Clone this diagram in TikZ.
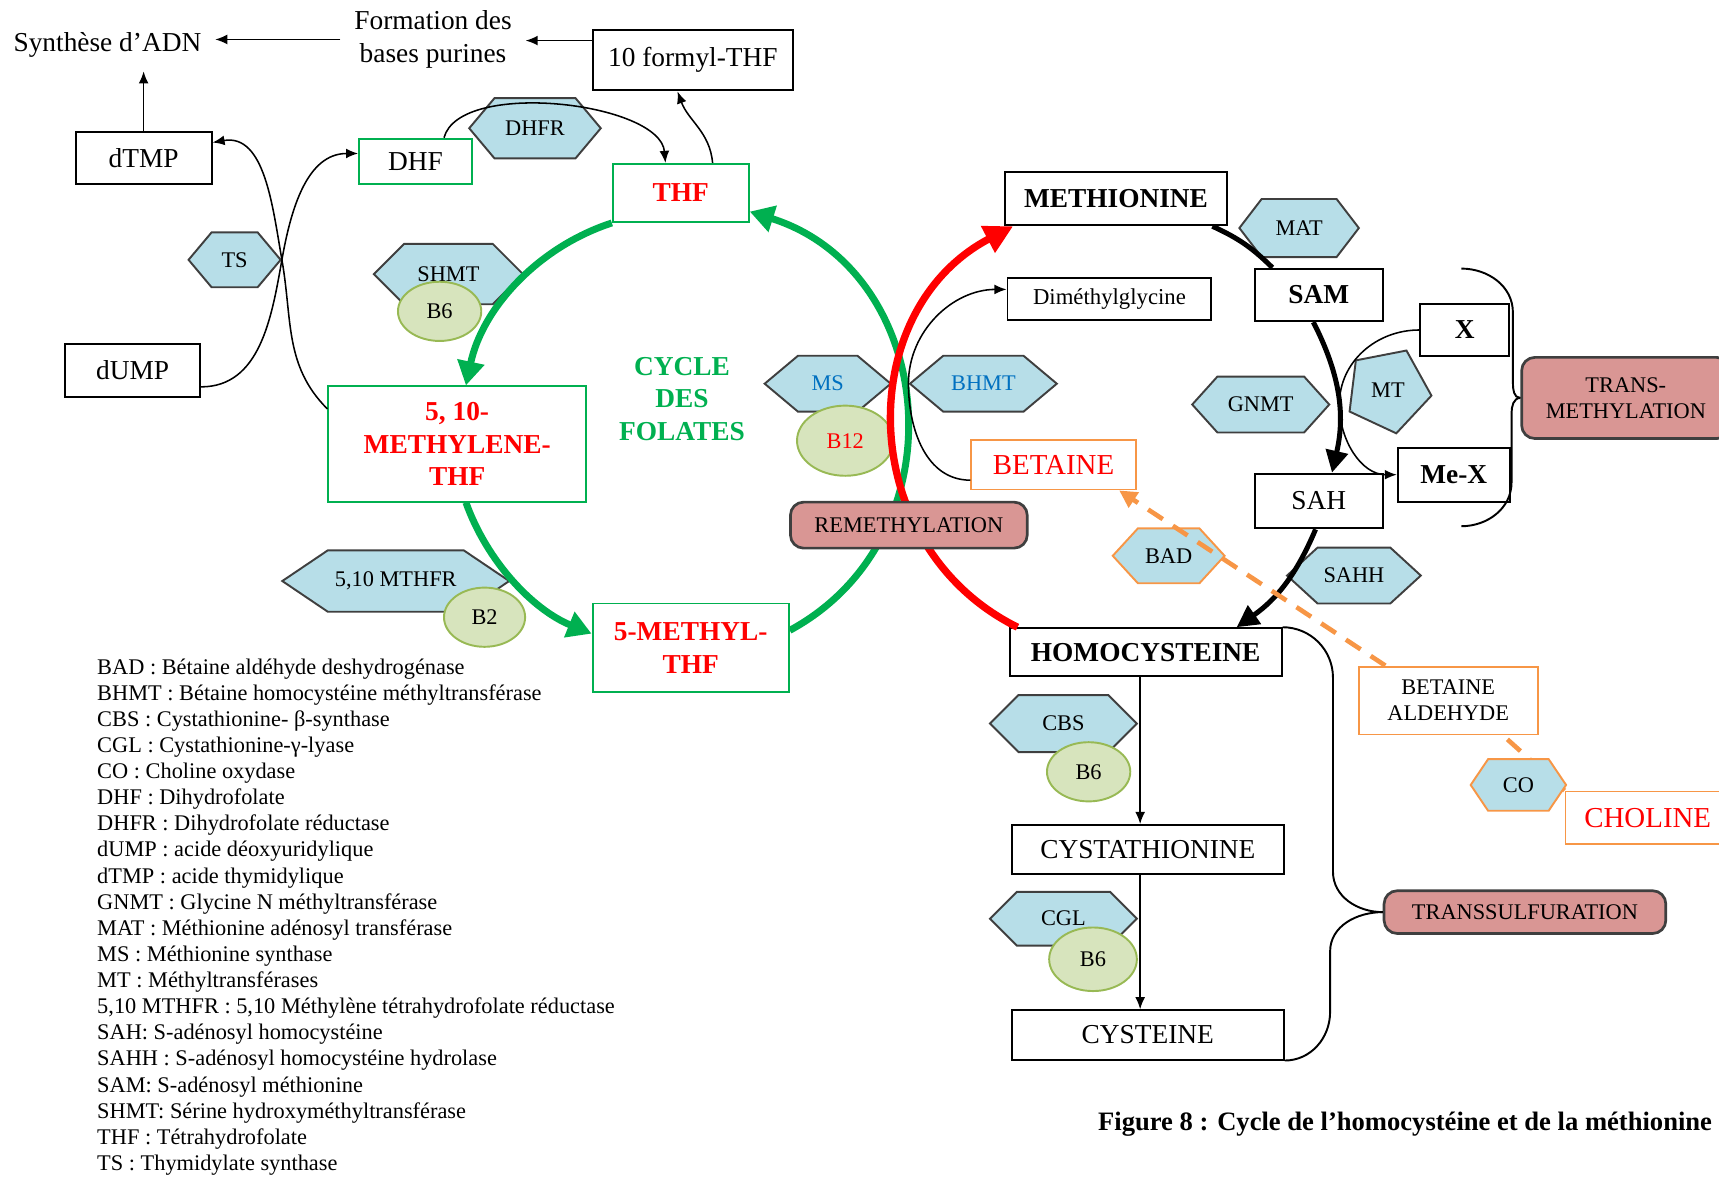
\documentclass[tikz,border=0pt]{standalone}
\usepackage{fontspec}
\setmainfont{Liberation Serif}
\usepackage{tikz}
\usetikzlibrary{shapes.geometric,shapes.symbols,arrows.meta,positioning}

\definecolor{fgreen}{HTML}{00B050}
\definecolor{forange}{HTML}{F79646}
\definecolor{fblue}{HTML}{0070C0}
\definecolor{hexfill}{HTML}{B7DEE8}
\definecolor{hexedge}{HTML}{3F3F3F}
\definecolor{vitfill}{HTML}{D7E4BD}
\definecolor{vitedge}{HTML}{98B954}
\definecolor{pinkfill}{HTML}{D99694}

\newcommand{\mainfs}{\fontsize{7.1}{8.5}\selectfont}
\newcommand{\smallfs}{\fontsize{5.8}{6.8}\selectfont}
\newcommand{\legfs}{\fontsize{5.8}{6.78}\selectfont}
\newcommand{\redfs}{\fontsize{7.5}{9}\selectfont}

\begin{document}
\begin{tikzpicture}[
x=0.1mm, y=0.1mm,
box/.style={
  draw,
  line width=0.5pt,
  inner sep=0pt,
  font=\mainfs,
  align=center
  },
gbox/.style={box, draw=fgreen},
obox/.style={box, draw=forange},
enz/.style={
  shape=signal,
  signal to=east and west,
  signal pointer angle=100,
  fill=hexfill,
  draw=hexedge,
  line width=0.5pt,
  inner sep=0pt,
  font=\smallfs
  },
vit/.style={
  ellipse,
  fill=vitfill,
  draw=vitedge,
  line width=0.5pt,
  inner sep=0pt,
  font=\smallfs
  },
lab/.style={
  rounded corners=1.2mm,
  fill=pinkfill,
  draw=hexedge,
  line width=0.7pt,
  inner sep=0pt,
  font=\smallfs,
  align=center
  },
plain/.style={inner sep=1.2mm, font=\mainfs, align=center},
cyc/.style={line width=1.8pt, -{Triangle[length=2.2mm,width=2.4mm]}},
link/.style={line width=0.4pt, ->},
dashline/.style={forange, line width=1.2pt, dash pattern=on 1.6mm off 1.1mm},
>={Latex[length=1.1mm,width=0.9mm]}
]
\useasboundingbox (0,0) rectangle (1568,-1073);
\clip (0,0) rectangle (1568,-1073);

% folate side
\node[plain] at (98,-41) (adn) {Synthèse d’ADN};
\node[plain] at (395,-36) (purine) {Formation des\\bases purines};
\node[box, minimum width=18.3mm, minimum height=5.5mm] at (632,-55) (formyl) {10 formyl-THF};
\node[box, minimum width=12.4mm, minimum height=4.8mm] at (131,-144) (dtmp) {dTMP};
\node[box, minimum width=12.3mm, minimum height=4.8mm] at (121,-338) (dump) {dUMP};
\node[gbox, minimum width=10.3mm, minimum height=4.1mm] at (379,-147) (dhf) {DHF};
\node[enz, minimum width=12mm, minimum height=5.5mm] at (488,-117) (dhfr) {DHFR};
\node[gbox, minimum width=12.4mm, minimum height=5.3mm, text=red, font=\mainfs\bfseries] at (621,-176) (thf) {THF};
\node[enz, minimum width=8.4mm, minimum height=5mm] at (214,-237) (ts) {TS};
\node[enz, minimum width=13.6mm, minimum height=5.5mm, signal pointer angle=90] at (409,-250) (shmt) {SHMT};
\node[vit, minimum width=7.6mm, minimum height=5.4mm] at (401,-284) (vb6a) {B6};
\node[gbox, minimum width=23.5mm, minimum height=10.5mm, text=red, font=\mainfs\bfseries] at (417,-405) (meth) {5, 10-\\METHYLENE-\\THF};
\node[plain, inner sep=0pt, text=fgreen, font=\mainfs\bfseries] at (622,-364) (cycle) {CYCLE\\DES\\FOLATES};
\node[enz, minimum width=11.5mm, minimum height=5.1mm, signal pointer angle=80, text=fblue] at (755,-350) (ms) {MS};
\node[vit, minimum width=8.8mm, minimum height=6.4mm, text=red] at (771,-402) (vb12) {B12};
\node[enz, minimum width=13.4mm, minimum height=5.1mm, signal pointer angle=80, text=fblue] at (897,-350) (bhmt) {BHMT};
\node[enz, minimum width=20.7mm, minimum height=5.6mm, signal pointer angle=68] at (361,-530) (mthfr) {5,10 MTHFR};
\node[vit, minimum width=7.4mm, minimum height=5.4mm] at (442,-563) (vb2) {B2};
\node[gbox, minimum width=17.9mm, minimum height=8.1mm, text=red, font=\mainfs\bfseries] at (630,-591) (mthf) {5-METHYL-\\THF};

% methionine side
\node[box, minimum width=20.2mm, minimum height=4.9mm, font=\mainfs\bfseries] at (1018,-181) (met) {METHIONINE};
\node[box, minimum width=18.6mm, minimum height=3.8mm, font=\fontsize{5.9}{7}\selectfont] at (1012,-273) (dmg) {Diméthylglycine};
\node[enz, minimum width=10.9mm, minimum height=5.3mm, signal pointer angle=105] at (1185,-208) (mat) {MAT};
\node[box, minimum width=11.7mm, minimum height=4.8mm, font=\mainfs\bfseries] at (1203,-269) (sam) {SAM};
\node[box, minimum width=8.1mm, minimum height=4.7mm, font=\mainfs\bfseries] at (1336,-301) (xx) {X};
\node[regular polygon, regular polygon sides=5, shape border rotate=-25, minimum size=8mm,
  fill=hexfill, draw=hexedge, line width=0.5pt, inner sep=0pt, font=\smallfs] at (1266,-356) (mt) {MT};
\node[enz, minimum width=12.5mm, minimum height=5.1mm, signal pointer angle=96] at (1150,-369) (gnmt) {GNMT};
\node[box, minimum width=10.2mm, minimum height=4.9mm, font=\mainfs\bfseries] at (1326,-433) (mex) {Me-X};
\node[box, minimum width=11.7mm, minimum height=5mm] at (1203,-457) (sah) {SAH};
\node[obox, minimum width=15mm, minimum height=4.5mm, text=red, font=\redfs] at (961,-424) (bet) {BETAINE};
\node[enz, draw=forange, minimum width=10.2mm, minimum height=5mm, signal pointer angle=95] at (1066,-507) (bad) {BAD};
\node[enz, minimum width=12.2mm, minimum height=5.1mm, signal pointer angle=85] at (1235,-525) (sahh) {SAHH};
\node[box, minimum width=24.8mm, minimum height=4.4mm, font=\mainfs\bfseries] at (1045,-595) (hcy) {HOMOCYSTEINE};
\node[obox, minimum width=16.3mm, minimum height=6.2mm, font=\smallfs] at (1321,-639) (bal) {BETAINE\\ALDEHYDE};
\node[obox, minimum width=15mm, minimum height=4.8mm, text=red, font=\redfs] at (1503,-746) (chol) {CHOLINE};
\node[enz, minimum width=13.4mm, minimum height=5.2mm, signal pointer angle=90] at (970,-660) (cbs) {CBS};
\node[vit, minimum width=7.6mm, minimum height=5.4mm] at (993,-704) (vb6b) {B6};
\node[box, minimum width=24.8mm, minimum height=4.5mm] at (1047,-775) (cysta) {CYSTATHIONINE};
\node[enz, minimum width=13.4mm, minimum height=4.9mm, signal pointer angle=90] at (970,-838) (cgl) {CGL};
\node[vit, minimum width=8mm, minimum height=5.8mm] at (997,-875) (vb6c) {B6};
\node[box, minimum width=24.8mm, minimum height=4.5mm] at (1047,-944) (cys) {CYSTEINE};
\node[lab, minimum width=19mm, minimum height=7.4mm] at (1483,-363) (tmeth) {TRANS-\\METHYLATION};
\node[lab, minimum width=25.7mm, minimum height=3.9mm] at (1391,-832) (tsulf) {TRANSSULFURATION};

% cycles
\draw[cyc, fgreen] (thf.south west) to[bend right=30, looseness=0.92] ([xshift=0.8mm]meth.north);
\draw[cyc, fgreen] ([xshift=0.8mm]meth.south) to[bend right=24, looseness=0.89] ([yshift=1.3mm]mthf.west);
\draw[cyc, fgreen] ([yshift=1.6mm]mthf.east) to[bend right=67, looseness=1.2] ([yshift=-1.7mm]thf.east);
\draw[cyc, red, line width=1.9pt, -{Triangle[length=2.6mm,width=2.6mm]}]
  ([xshift=0.8mm]hcy.north west) to[bend left=63, looseness=1.16] ([xshift=0.8mm]met.south west);
\draw[line width=1.3pt] ([xshift=-1.4mm]met.south east) to[bend left=10] ([xshift=1.7mm]sam.north west);
\draw[cyc, line width=1.3pt, -{Triangle[length=2mm,width=2mm]}] ([xshift=-0.5mm]sam.south) to[bend left=20] ([xshift=1.2mm]sah.north);
\draw[cyc, line width=1.3pt, -{Triangle[length=2mm,width=2mm]}] ([xshift=-0.3mm]sah.south) to[bend left=16] ([xshift=8.3mm]hcy.north);
\node[lab, minimum width=21.6mm, minimum height=4.2mm] at (829,-479) (remeth) {REMETHYLATION};

% folate links
\draw[link] (purine.west) -- (purine.west -| adn.east);
\draw[link] ([yshift=1.8mm]formyl.west) -- ([yshift=1.8mm]formyl.west -| purine.east);
\draw[link] (dtmp.north) -- (dtmp.north |- adn.south);
\draw[link] ([yshift=1mm]dump.south east) to[out=0,in=-100] (ts.east) to[out=80,in=180] ([yshift=0.7mm]dhf.west);
\draw[link] ([yshift=3.2mm]meth.west) to[out=135,in=-80] (ts.east) to[out=100,in=10] ([yshift=1.4mm]dtmp.east);
\draw[link] ([xshift=2.6mm]dhf.north) to[out=75,in=95,looseness=0.7] ([xshift=-1.4mm]thf.north);
\draw[link] ([xshift=2.9mm]thf.north) to[out=95,in=-70] ([xshift=-1.4mm]formyl.south);

% methyl links
\draw[link] ([yshift=-1.4mm]bet.west) to[out=180,in=-90] (bhmt.west) to[out=90,in=180] ([yshift=0.9mm]dmg.west);
\draw[link] (xx.west) to[out=180,in=90] ([xshift=0.8mm]gnmt.east) to[out=-90,in=180] (mex.west);
\draw[link] ([xshift=-0.5mm]hcy.south) -- ([xshift=-0.5mm]hcy.south |- cysta.north);
\draw[link] ([xshift=-0.7mm]cysta.south) -- ([xshift=-0.7mm]cysta.south |- cys.north);
\draw[dashline, -{Triangle[length=1.6mm,width=1.6mm]}] ([xshift=2.5mm]bal.north west) -- ([xshift=-1.6mm]bet.south east);
\draw[dashline] (chol.north west) -- ([xshift=5mm]bal.south);
\node[enz, draw=forange, minimum width=8.7mm, minimum height=4.7mm, signal pointer angle=112] at (1385,-716) (co) {CO};

% braces
\coordinate (tmtop) at (1333,-245);
\coordinate (tmbot) at (1333,-480);
\draw[line width=0.5pt] (tmtop) to[out=0,in=90] ++(47,-40) -- ++(0,-64) to[out=-90,in=180] (tmeth.west);
\draw[line width=0.5pt] (tmeth.west) to[out=180,in=90] ++(-8,-14) -- ++(0,-63) to[out=-90,in=0] (tmbot);
\draw[line width=0.5pt] (hcy.north east) to[out=0,in=90] ++(46,-46) -- ++(0,-177) to[out=-90,in=180] (tsulf.west);
\draw[line width=0.5pt] (tsulf.west) to[out=180,in=90] ++(-48,-36) -- ++(0,-55) to[out=-90,in=0] (cys.south east);

\node[anchor=north west, inner sep=0pt, align=left, font=\legfs] at (88,-600) (legend) {%
BAD : Bétaine aldéhyde  deshydrogénase\\
BHMT : Bétaine homocystéine méthyltransférase\\
CBS : Cystathionine- β-synthase\\
CGL : Cystathionine-γ-lyase\\
CO : Choline oxydase\\
DHF : Dihydrofolate\\
DHFR : Dihydrofolate réductase\\
dUMP : acide déoxyuridylique\\
dTMP : acide thymidylique\\
GNMT : Glycine N méthyltransférase\\
MAT : Méthionine adénosyl  transférase\\
MS : Méthionine synthase\\
MT : Méthyltransférases\\
5,10 MTHFR : 5,10 Méthylène tétrahydrofolate  réductase\\
SAH: S-adénosyl homocystéine\\
SAHH : S-adénosyl homocystéine hydrolase\\
SAM: S-adénosyl méthionine\\
SHMT: Sérine hydroxyméthyltransférase\\
THF : Tétrahydrofolate\\
TS : Thymidylate synthase};
\node[anchor=west, inner sep=0pt, font=\fontsize{6.9}{8}\selectfont\bfseries] at (1001,-1025) (caption) {Figure 8 : Cycle de l’homocystéine et de la méthionine};
\end{tikzpicture}
\end{document}
